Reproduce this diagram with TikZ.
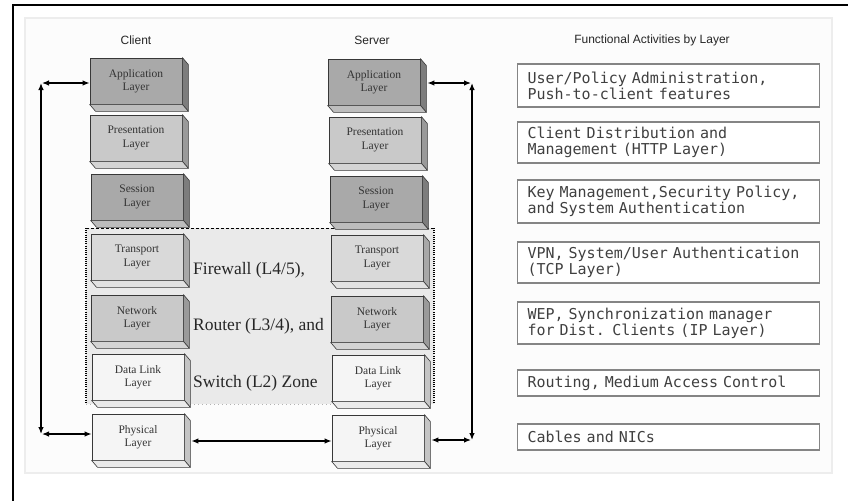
\documentclass[tikz,border=0pt]{standalone}
\usepackage{fontspec}
\setmainfont{Liberation Serif}
\newfontfamily\headfont{Liberation Sans}
\newfontfamily\funcfont{DejaVu Sans Mono}
\usetikzlibrary{arrows.meta}

% face colours of the layer blocks
\definecolor{darkF}{HTML}{A9A9A9}\definecolor{darkS}{HTML}{7D7D7D}\definecolor{darkB}{HTML}{BDBDBD}
\definecolor{midF}{HTML}{C9C9C9}\definecolor{midS}{HTML}{9A9A9A}\definecolor{midB}{HTML}{D4D4D4}
\definecolor{liteF}{HTML}{D9D9D9}\definecolor{liteS}{HTML}{A8A8A8}\definecolor{liteB}{HTML}{E2E2E2}
\definecolor{paleF}{HTML}{F5F5F5}\definecolor{paleS}{HTML}{C4C4C4}\definecolor{paleB}{HTML}{EAEAEA}
\definecolor{zonegray}{HTML}{EAEAEA}

\tikzset{
  layer/.style={draw=black!78, line width=0.8pt, minimum width=92pt, minimum height=46pt,
    inner sep=0pt, align=center, text=black!80, font=\fontsize{11.5}{13.5}\selectfont},
  face/.style={draw=black!78, line width=0.6pt, line join=round},
  head/.style={text=black!85, font=\headfont\fontsize{12}{14}\selectfont},
  func/.style={draw=black!48, line width=1.1pt, fill=white, anchor=west, minimum width=302pt,
    text width=282pt, inner xsep=10pt, align=left, text=black!75,
    font=\funcfont\fontsize{15}{16}\selectfont},
  zonetext/.style={anchor=west, inner sep=0pt, text=black!85, font=\fontsize{17.5}{20}\selectfont},
  conn/.style={line width=1.2pt, {Latex[length=7pt,width=5.5pt]}-{Latex[length=7pt,width=5.5pt]}},
}

% a layer block: front face as a node, right and bottom faces drawn from its anchors
% #1 name, #2 x, #3 y, #4 front, #5 side, #6 bottom, #7 label
\newcommand\layerblock[7]{%
  \node[layer, fill=#4] (#1) at (#2,#3) {#7};
  \filldraw[face, fill=#5] (#1.north east) -- ([shift={(6,7)}]#1.north east)
    -- ([shift={(6,7)}]#1.south east) -- (#1.south east) -- cycle;
  \filldraw[face, fill=#6] (#1.south west) -- ([shift={(6,7)}]#1.south west)
    -- ([shift={(6,7)}]#1.south east) -- (#1.south east) -- cycle;
}

\begin{document}
\begin{tikzpicture}[x=1pt, y=-1pt]
  \useasboundingbox[fill=white] (0,0) rectangle (848,501);

  % outer frame (continues past the right and bottom edges)
  \draw[line width=2pt] (12,5) -- (848,5);
  \draw[line width=2pt] (13,4) -- (13,501);

  % inner panel
  \filldraw[fill=black!1, draw=black!7, line width=1.2pt] (25,18) rectangle (832,473);

  % column headings
  \node[head] (hClient) at (136,40) {Client};
  \node[head] (hServer) at (372,40) {Server};
  \node[head] (hFunc) at (652,40) {Functional Activities by Layer};

  % firewall / router / switch zone
  \fill[zonegray] (86,228) rectangle (434,404);
  \draw[dashed, line width=1pt, dash pattern=on 3pt off 2pt] (86,228) -- (434,228);
  \draw[line width=1.3pt, dash pattern=on 1pt off 1.2pt] (86,228) -- (86,404);
  \draw[line width=1.3pt, dash pattern=on 1pt off 1.2pt] (434,228) -- (434,404);
  \draw[black!30, line width=1pt, dash pattern=on 1pt off 3pt] (86,404) -- (434,404);

  \node[zonetext] (zFw) at (193,270) {Firewall (L4/5),};
  \node[zonetext] (zRt) at (193,326) {Router (L3/4), and};
  \node[zonetext] (zSw) at (193,383) {Switch (L2) Zone};

  % client stack
  \layerblock{cApp}{136}{81}{darkF}{darkS}{darkB}{Application\\Layer}
  \layerblock{cPre}{136}{138}{midF}{midS}{midB}{Presentation\\Layer}
  \layerblock{cSes}{137}{197}{darkF}{darkS}{darkB}{Session\\Layer}
  \layerblock{cTra}{137}{257}{liteF}{liteS}{liteB}{Transport\\Layer}
  \layerblock{cNet}{137}{318}{midF}{midS}{midB}{Network\\Layer}
  \layerblock{cDat}{138}{377}{paleF}{paleS}{paleB}{Data Link\\Layer}
  \layerblock{cPhy}{138}{437}{paleF}{paleS}{paleB}{Physical\\Layer}

  % server stack
  \layerblock{sApp}{374}{82}{darkF}{darkS}{darkB}{Application\\Layer}
  \layerblock{sPre}{375}{140}{midF}{midS}{midB}{Presentation\\Layer}
  \layerblock{sSes}{376}{199}{darkF}{darkS}{darkB}{Session\\Layer}
  \layerblock{sTra}{377}{258}{liteF}{liteS}{liteB}{Transport\\Layer}
  \layerblock{sNet}{377}{319}{midF}{midS}{midB}{Network\\Layer}
  \layerblock{sDat}{378}{378}{paleF}{paleS}{paleB}{Data Link\\Layer}
  \layerblock{sPhy}{378}{438}{paleF}{paleS}{paleB}{Physical\\Layer}

  % functional activities
  \node[func, minimum height=43pt] (f1) at (517,85.5) {User/Policy Administration,\\Push-to-client features};
  \node[func, minimum height=41pt] (f2) at (517,142.5) {Client Distribution and\\Management (HTTP Layer)};
  \node[func, minimum height=43pt] (f3) at (517,201.5) {Key Management,Security Policy,\\and System Authentication};
  \node[func, minimum height=41pt] (f4) at (517,262.5) {VPN, System/User Authentication\\(TCP Layer)};
  \node[func, minimum height=42pt] (f5) at (517,323) {WEP, Synchronization manager\\for Dist. Clients (IP Layer)};
  \node[func, minimum height=26pt] (f6) at (517,383) {Routing, Medium Access Control};
  \node[func, minimum height=26pt] (f7) at (517,437) {Cables and NICs};

  % peer connectors
  \coordinate (lt) at (41,83);
  \coordinate (lb) at (41,434);
  \coordinate (rt) at (472,83);
  \coordinate (rb) at (472,440);
  \path ([xshift=7pt]sApp.east) coordinate (sAppR);
  \path ([xshift=7pt]sPhy.east) coordinate (sPhyR);
  \path ([xshift=7pt,yshift=-4pt]cPhy.east) coordinate (cPhyR);

  \draw[conn] (lb) -- (lt);
  \draw[conn] ([xshift=1pt]lt) -- (lt -| cApp.west);
  \draw[conn] ([xshift=1pt]lb) -- (lb -| cPhy.west);
  \draw[conn] (cPhyR) -- (cPhyR -| sPhy.west);
  \draw[conn] (rb) -- (rt);
  \draw[conn] (sAppR |- rt) -- ([xshift=-1pt]rt);
  \draw[conn] (sPhyR |- rb) -- ([xshift=-1pt]rb);
\end{tikzpicture}
\end{document}
